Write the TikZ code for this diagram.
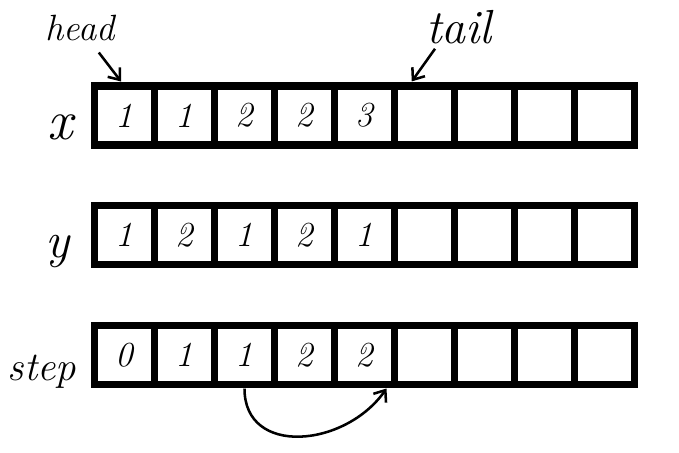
\documentclass[tikz,border=0pt]{standalone}
\usepackage{fontspec}
\usepackage{tikz}
\usetikzlibrary{positioning, arrows.meta}

\begin{document}
\begin{tikzpicture}[cell/.style = {draw, rectangle, line width=5pt, minimum width=1.5cm, minimum height=1.475cm, inner sep=0pt, outer sep=0pt, font=\fontsize{25}{27}\selectfont\itshape}, lab/.style = {font=\fontsize{#1}{#1}\selectfont\itshape}, pointer/.style = {-{Straight Barb[length=7pt, width=11pt]}, line width=1.8pt}]
\useasboundingbox (0,0) rectangle (16.975,-11.325);
% array x
\node[cell] (x1) at (3.1125,-2.8875) {1};
\node[cell] (x2) [right=0pt of x1] {1};
\node[cell] (x3) [right=0pt of x2] {2};
\node[cell] (x4) [right=0pt of x3] {2};
\node[cell] (x5) [right=0pt of x4] {3};
\node[cell] (x6) [right=0pt of x5] {};
\node[cell] (x7) [right=0pt of x6] {};
\node[cell] (x8) [right=0pt of x7] {};
\node[cell] (x9) [right=0pt of x8] {};
% array y
\node[cell] (y1) at (3.1125,-5.875) {1};
\node[cell] (y2) [right=0pt of y1] {2};
\node[cell] (y3) [right=0pt of y2] {1};
\node[cell] (y4) [right=0pt of y3] {2};
\node[cell] (y5) [right=0pt of y4] {1};
\node[cell] (y6) [right=0pt of y5] {};
\node[cell] (y7) [right=0pt of y6] {};
\node[cell] (y8) [right=0pt of y7] {};
\node[cell] (y9) [right=0pt of y8] {};
% array step
\node[cell] (s1) at (3.1125,-8.875) {0};
\node[cell] (s2) [right=0pt of s1] {1};
\node[cell] (s3) [right=0pt of s2] {1};
\node[cell] (s4) [right=0pt of s3] {2};
\node[cell] (s5) [right=0pt of s4] {2};
\node[cell] (s6) [right=0pt of s5] {};
\node[cell] (s7) [right=0pt of s6] {};
\node[cell] (s8) [right=0pt of s7] {};
\node[cell] (s9) [right=0pt of s8] {};
% names
\node[lab=40] (xlab) at (1.5,-3.175) {x};
\node[lab=36] (ylab) at (1.45,-6.3) {y};
\node[lab=29] (steplab) at (1.05,-9.3) {step};
\node[lab=26] (head) at (2.0,-0.7) {head};
\node[lab=34] (tail) at (11.475,-0.675) {tail};
\draw[pointer, shorten <=6pt, shorten >=4pt] (head) -- (x1.north);
\draw[pointer, shorten >=4pt] ([xshift=-0.6cm]tail.south) -- ([xshift=0.35cm]x6.north west);
\draw[pointer, shorten <=3pt] (s3.south) to [out=-90, in=-125, looseness=1.3] ([xshift=-0.2cm, yshift=-0.1cm]s5.south east);
\end{tikzpicture}
\end{document}
